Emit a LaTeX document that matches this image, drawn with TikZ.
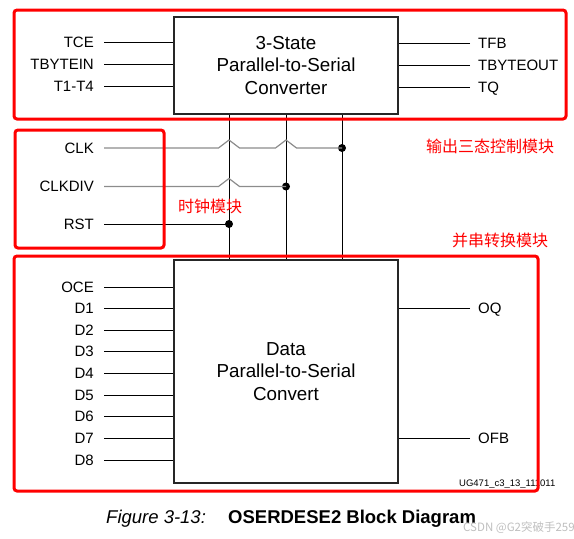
\documentclass[tikz,border=0pt]{standalone}
\usepackage{fontspec}
\setmainfont{Liberation Sans}
\newfontfamily\cjk{Noto Sans CJK SC}
\usetikzlibrary{calc}
\begin{document}
\begin{tikzpicture}[x=1pt,y=-1pt,
  blk/.style={draw=black!85, line width=2.5pt, minimum width=224pt, inner sep=0pt, align=center, font=\fontsize{18.8}{22.5}\selectfont},
  redbox/.style={draw=red, line width=3pt, rounded corners=3pt},
  lbl/.style={anchor=east, inner sep=0pt, text height=10.5pt, text depth=0pt, font=\fontsize{15}{16}\selectfont},
  rlbl/.style={lbl, anchor=west},
  wire/.style={line width=1pt, draw=black},
  gwire/.style={line width=1.2pt, draw=black!45},
  dot/.style={circle, fill=black, inner sep=0pt, minimum size=8pt},
  cn/.style={text=red, inner sep=0pt, anchor=west, font=\cjk\fontsize{16}{18}\selectfont}
]
\useasboundingbox (0,0) rectangle (574,539);

% blocks
\node[blk, minimum height=97pt] (ts) at (286,65.5) {3-State\\Parallel-to-Serial\\Converter};
\node[blk, minimum height=223pt] (ds) at (286,371.5) {Data\\Parallel-to-Serial\\Convert};

% top-left labels
\node[lbl] (tce) at (94,42.5) {TCE};
\node[lbl] (tbytein) at (94,64.5) {TBYTEIN};
\node[lbl] (tt) at (94,86.5) {T1-T4};
\foreach \n in {tce,tbytein,tt}
  \draw[wire] ([xshift=10pt]\n.east) -- (\n.east -| ts.west);

% top-right labels
\node[rlbl] (tfb) at (478,43.5) {TFB};
\node[rlbl] (tbyteout) at (478,65.5) {TBYTEOUT};
\node[rlbl] (tq) at (478,87.5) {TQ};
\foreach \n in {tfb,tbyteout,tq}
  \draw[wire] ([xshift=-8pt]\n.west) -- (\n.west -| ts.east);

% vertical buses
\coordinate (v1) at (229,0);
\coordinate (v2) at (286,0);
\coordinate (v3) at (342,0);
\foreach \v in {v1,v2,v3}
  \draw[wire] (ts.south -| \v) -- (ds.north -| \v);

% clock labels
\node[lbl] (clk) at (94,148) {CLK};
\node[lbl] (clkdiv) at (94,186.5) {CLKDIV};
\node[lbl] (rst) at (94,224) {RST};

\node[dot] (dclk) at (v3 |- clk) {};
\node[dot] (dclkdiv) at (v2 |- clkdiv) {};
\node[dot] (drst) at (v1 |- rst) {};

\coordinate (h1) at (v1 |- clk);
\coordinate (h2) at (v2 |- clk);
\coordinate (h3) at (v1 |- clkdiv);
\draw[gwire] ([xshift=10pt]clk.east) -- ([xshift=-10.5pt]h1) -- ([yshift=8pt]h1) -- ([xshift=10.5pt]h1)
  -- ([xshift=-10.5pt]h2) -- ([yshift=8pt]h2) -- ([xshift=10.5pt]h2) -- (dclk.center);
\draw[gwire] ([xshift=10pt]clkdiv.east) -- ([xshift=-10.5pt]h3) -- ([yshift=8pt]h3) -- ([xshift=10.5pt]h3) -- (dclkdiv.center);
\draw[wire] ([xshift=10pt]rst.east) -- (drst.center);

% data labels
\foreach \n/\t/\y in {oce/OCE/287, d1/D1/308.5, d2/D2/330, d3/D3/351.5, d4/D4/373, d5/D5/395, d6/D6/416.5, d7/D7/438, d8/D8/460}{
  \node[lbl] (\n) at (94,\y) {\t};
  \draw[wire] ([xshift=10pt]\n.east) -- (\n.east -| ds.west);
}
\node[rlbl] (oq) at (478,308.5) {OQ};
\node[rlbl] (ofb) at (478,438) {OFB};
\foreach \n in {oq,ofb}
  \draw[wire] ([xshift=-8pt]\n.west) -- (\n.west -| ds.east);

% figure id
\node[anchor=west, inner sep=0pt, font=\fontsize{9.5}{11}\selectfont] (figid) at (459,484) {UG471\_c3\_13\_111011};

% red annotation boxes
\draw[redbox] (14,10) rectangle (566,119);
\draw[redbox] (15,130) rectangle (164,248);
\draw[redbox] (14,256) rectangle (538,491);

\node[cn] (cn1) at (426,146) {输出三态控制模块};
\node[cn] (cn2) at (178,206) {时钟模块};
\node[cn] (cn3) at (452,240) {并串转换模块};

% caption
\node[anchor=west, inner sep=0pt, font=\fontsize{18.5}{20}\selectfont\itshape] (figlbl) at (106,519) {Figure 3-13:};
\node[anchor=west, inner sep=0pt, font=\fontsize{18.5}{20}\selectfont\bfseries] (figtitle) at (228,519) {OSERDESE2 Block Diagram};
\node[anchor=west, inner sep=0pt, text=black!25, font=\cjk\fontsize{11.5}{13}\selectfont] (wm) at (463,528) {CSDN @G2突破手259};
\end{tikzpicture}
\end{document}
